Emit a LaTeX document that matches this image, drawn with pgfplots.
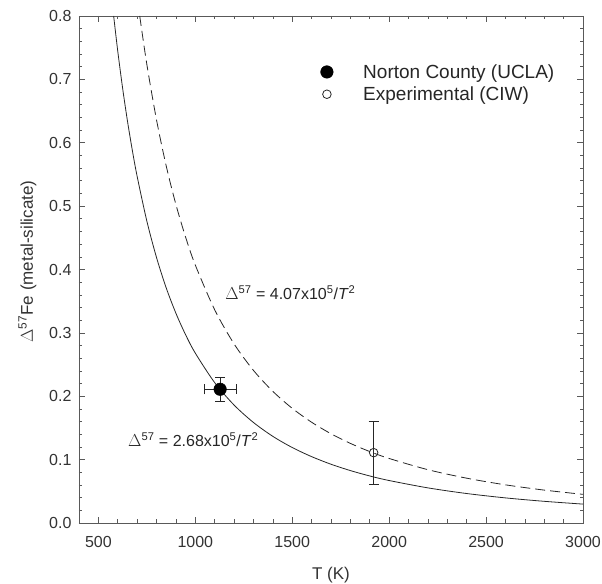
\documentclass[border=0pt]{standalone}
\usepackage{pgfplots}
\pgfplotsset{compat=1.18}
\usepackage{fontspec}
\setmainfont{Liberation Sans}

\definecolor{axisgray}{gray}{0.35}

\begin{document}
\begin{tikzpicture}
\begin{axis}[
    scale only axis,
    width=504pt, height=507pt,
    xmin=400, xmax=3000,
    ymin=0, ymax=0.8,
    xtick={500,1000,...,3000},
    ytick={0,0.1,...,0.8},
    minor x tick num=4,
    minor y tick num=4,
    tick align=inside,
    tick pos=both,
    major tick length=6pt,
    minor tick length=3.5pt,
    every tick/.style={axisgray, line width=0.6pt},
    axis line style={axisgray, line width=0.8pt},
    /pgf/number format/assume math mode=true,
    /pgf/number format/.cd, fixed, fixed zerofill, precision=1, /pgfplots/.cd,
    xticklabel={\pgfmathprintnumber[fixed, precision=0, 1000 sep={}]{\tick}},
    ticklabel style={font=\fontsize{16}{19}\selectfont, text=black!80},
    xticklabel style={yshift=-10pt},
    yticklabel style={xshift=-4pt},
    xlabel={T (K)},
    ylabel={$\Delta^{\mathrm{57}}$Fe (metal-silicate)},
    xlabel style={font=\fontsize{17}{20}\selectfont, text=black!80, yshift=-12pt},
    ylabel style={font=\fontsize{17}{20}\selectfont, text=black!80, yshift=6pt, xshift=8pt},
    legend style={draw=none, fill=none, at={(0.479,0.909)}, anchor=north west,
        font=\fontsize{19}{22}\selectfont, text=black!85,
        row sep=3pt, column sep=28pt, inner sep=0pt},
    legend cell align=left,
    clip=true,
]
% solid: 2.68e5/T^2
\addplot[black!85, line width=0.8pt, smooth, forget plot] coordinates {
(578.8,0.8000) (600,0.7444) (625,0.6861) (650,0.6343) (675,0.5882)
(700,0.5469) (750,0.4764) (800,0.4188) (850,0.3709) (900,0.3309)
(950,0.2970) (1000,0.2680) (1100,0.2215) (1200,0.1861) (1300,0.1586)
(1400,0.1367) (1500,0.1191) (1600,0.1047) (1700,0.0927) (1800,0.0827)
(1900,0.0742) (2000,0.0670) (2200,0.0554) (2400,0.0465) (2600,0.0396)
(2800,0.0342) (3000,0.0298)};
% dashed: 4.07e5/T^2
\addplot[black!85, line width=0.8pt, smooth, dash pattern=on 10pt off 5pt, forget plot] coordinates {
(713.3,0.8000) (750,0.7236) (800,0.6359) (850,0.5633) (900,0.5025)
(950,0.4510) (1000,0.4070) (1100,0.3364) (1200,0.2826) (1300,0.2408)
(1400,0.2077) (1500,0.1809) (1600,0.1590) (1700,0.1408) (1800,0.1256)
(1900,0.1127) (2000,0.1018) (2200,0.0841) (2400,0.0707) (2600,0.0602)
(2800,0.0519) (3000,0.0452)};
% Norton County
\addplot[only marks, mark=*, mark size=6.3pt, black, mark options={fill=black},
    error bars/.cd, x dir=both, x explicit, y dir=both, y explicit,
    error bar style={black!85, line width=0.8pt},
    error mark options={rotate=90, mark size=5pt, black!85, line width=0.8pt}]
    coordinates {(1128,0.211) +- (82,0.019)};
\addlegendentry{Norton County (UCLA)}
% Experimental
\addplot[only marks, mark=o, mark size=4.3pt, black!85, mark options={fill=white, line width=0.8pt},
    error bars/.cd, y dir=both, y explicit,
    error bar style={black!85, line width=0.8pt},
    error mark options={rotate=90, mark size=5pt, black!85, line width=0.8pt}]
    coordinates {(1920,0.111) +- (0,0.050)};
\addlegendentry{Experimental (CIW)}
\node[anchor=west, font=\fontsize{16}{19}\selectfont, text=black!85, inner sep=0pt]
    at (axis cs:1154,0.364) {$\Delta^{\mathrm{57}}$ = 4.07x10$^{\mathrm{5}}$/\textit{T}$^{\mathrm{2}}$};
\node[anchor=west, font=\fontsize{16}{19}\selectfont, text=black!85, inner sep=0pt]
    at (axis cs:653,0.131) {$\Delta^{\mathrm{57}}$ = 2.68x10$^{\mathrm{5}}$/\textit{T}$^{\mathrm{2}}$};
\end{axis}
\pgfresetboundingbox
\path[use as bounding box] ([shift={(-79pt,-61pt)}]current axis.south west)
    rectangle ([shift={(19pt,16pt)}]current axis.north east);
\end{tikzpicture}
\end{document}
